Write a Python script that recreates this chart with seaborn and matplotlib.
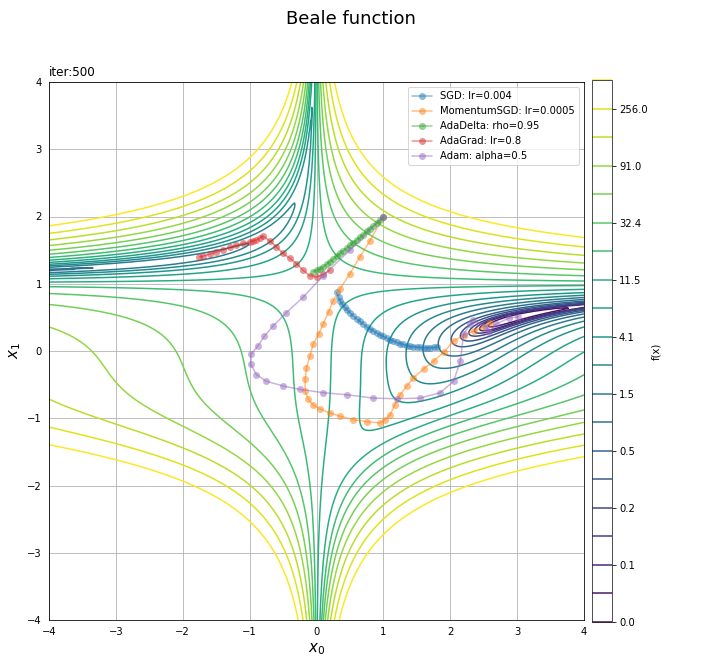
import numpy as np
import matplotlib
matplotlib.use("Agg")
import matplotlib.pyplot as plt
import seaborn as sns

# contour levels (in-between ones are guesses)
tick_levels = [0.0, 0.1, 0.2, 0.5, 1.5, 4.1, 11.5, 32.4, 91.0, 256.0]
mid_levels = [0.05, 0.14, 0.32, 0.87, 2.5, 6.9, 19.3, 54.3, 153.0, 430.0]

# optimizer paths (x0, x1)
sgd_x0 = [0.3, 0.33, 0.35, 0.38, 0.42, 0.46, 0.5, 0.55, 0.6, 0.65, 0.7, 0.75, 0.8, 0.85, 0.9, 0.95, 1.0,
          1.05, 1.1, 1.15, 1.2, 1.25, 1.3, 1.35, 1.4, 1.45, 1.5, 1.55, 1.6, 1.65, 1.7, 1.75, 1.8]
sgd_x1 = [0.87, 0.8, 0.75, 0.7, 0.65, 0.61, 0.57, 0.52, 0.48, 0.44, 0.4, 0.36, 0.33, 0.3, 0.27, 0.24, 0.22,
          0.19, 0.17, 0.15, 0.13, 0.11, 0.1, 0.08, 0.07, 0.065, 0.06, 0.055, 0.05, 0.05, 0.05, 0.055, 0.06]

msgd_x0 = [1.0, 0.8, 0.65, 0.5, 0.35, 0.25, 0.18, 0.1, 0.03, -0.05, -0.1, -0.15, -0.17, -0.17, -0.12,
           -0.05, 0.05, 0.2, 0.35, 0.55, 0.75, 0.95, 1.03, 1.1, 1.17, 1.25, 1.35, 1.45, 1.6, 1.75,
           1.9, 2.05, 2.2, 2.35, 2.5, 2.6]
msgd_x1 = [2.0, 1.64, 1.4, 1.15, 0.92, 0.75, 0.58, 0.4, 0.25, 0.1, -0.08, -0.25, -0.42, -0.6, -0.72,
           -0.8, -0.86, -0.92, -0.97, -1.02, -1.05, -1.07, -1.02, -0.95, -0.8, -0.65, -0.52, -0.4, -0.27, -0.15,
           -0.02, 0.15, 0.23, 0.3, 0.36, 0.41]

ada_x0 = [1.0, 0.95, 0.9, 0.85, 0.8, 0.75, 0.7, 0.65, 0.6, 0.55, 0.5, 0.45, 0.4, 0.35, 0.3, 0.25, 0.2,
          0.15, 0.1, 0.05, 0.0, -0.05]
ada_x1 = [2.0, 1.95, 1.9, 1.86, 1.82, 1.78, 1.73, 1.69, 1.65, 1.61, 1.57, 1.53, 1.49, 1.45, 1.41, 1.37, 1.33,
          1.29, 1.25, 1.22, 1.2, 1.18]

adag_x0 = [0.2, 0.1, 0.0, -0.1, -0.2, -0.3, -0.4, -0.5, -0.6, -0.7, -0.8, -0.85, -0.9, -0.95, -1.0, -1.1,
           -1.2, -1.3, -1.4, -1.5, -1.6, -1.7, -1.75]
adag_x1 = [1.2, 1.14, 1.1, 1.12, 1.2, 1.3, 1.38, 1.45, 1.55, 1.64, 1.71, 1.68, 1.65, 1.64, 1.62, 1.6,
           1.57, 1.54, 1.5, 1.47, 1.44, 1.41, 1.4]

adam_x0 = [1.0, 0.5, 0.1, -0.2, -0.45, -0.65, -0.78, -0.88, -0.98, -0.98, -0.9, -0.75, -0.5, -0.25,
           0.1, 0.45, 0.85, 1.2, 1.55, 1.85, 2.05, 2.15, 2.2, 2.3, 2.34, 2.54, 2.58, 2.68, 2.88, 3.02]
adam_x1 = [2.0, 1.5, 1.12, 0.8, 0.57, 0.37, 0.22, 0.07, -0.05, -0.2, -0.35, -0.45, -0.52, -0.57,
           -0.62, -0.65, -0.7, -0.71, -0.7, -0.62, -0.45, -0.15, 0.25, 0.4, 0.46, 0.36, 0.28, 0.4, 0.49, 0.51]

levels = []
for a, b in zip(tick_levels, mid_levels):
    levels += [a, b]

paths = [
    ("SGD: lr=0.004", sgd_x0, sgd_x1),
    ("MomentumSGD: lr=0.0005", msgd_x0, msgd_x1),
    ("AdaDelta: rho=0.95", ada_x0, ada_x1),
    ("AdaGrad: lr=0.8", adag_x0, adag_x1),
    ("Adam: alpha=0.5", adam_x0, adam_x1),
]

sns.set_style("white", {"text.color": "black", "axes.labelcolor": "black",
                        "xtick.color": "black", "ytick.color": "black"})
fig = plt.figure(figsize=(701 / 72, 666 / 72), dpi=72)
ax = fig.add_axes([49 / 701, 46 / 666, 535 / 701, 538 / 666])
cax = fig.add_axes([592 / 701, 44 / 666, 20 / 701, 542 / 666])

g = np.linspace(-4, 4, 400)
X0, X1 = np.meshgrid(g, g)
Z = (1.5 - X0 + X0 * X1) ** 2 + (2.25 - X0 + X0 * X1 ** 2) ** 2 + (2.625 - X0 + X0 * X1 ** 3) ** 2
cols = plt.cm.viridis(np.linspace(0, 1, len(levels)))
cs = ax.contour(X0, X1, Z, levels=levels, colors=cols, linewidths=1.5)

pal = sns.color_palette("tab10")
for i, (name, xs, ys) in enumerate(paths):
    sns.lineplot(x=xs, y=ys, sort=False, estimator=None, ax=ax, color=pal[i], marker="o",
                 markersize=7, markeredgewidth=0, alpha=0.5, label=name, linewidth=1.5)

ax.set_xlim(-4, 4)
ax.set_ylim(-4, 4)
ax.grid(True, color="#b0b0b0")
for s in ax.spines.values():
    s.set_color("black")
ax.set_xlabel("$x_0$", fontsize=15)
ax.set_ylabel("$x_1$", fontsize=15)
ax.set_title("iter:500", loc="left", fontsize=12)
ax.legend(loc="upper right", fontsize=10)
ax.tick_params(labelsize=10)

cb = fig.colorbar(cs, cax=cax)
cb.set_ticks(tick_levels)
cb.set_ticklabels(["%.1f" % t for t in tick_levels])
cb.set_label("f(x)")
cb.ax.tick_params(labelsize=10)

fig.suptitle("Beale function", fontsize=18, y=0.985)
fig.savefig("out.png", dpi=72)
